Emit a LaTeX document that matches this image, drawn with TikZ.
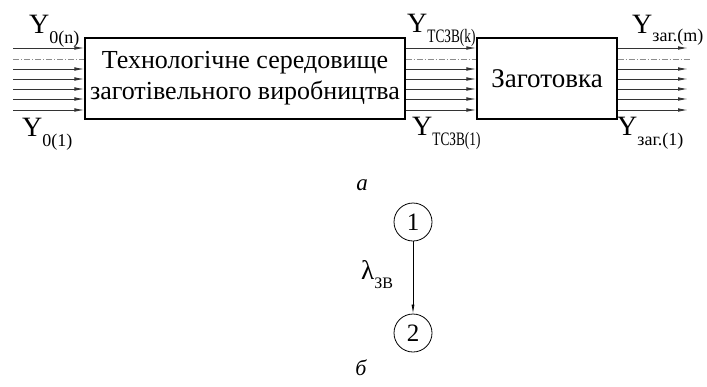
\documentclass[tikz,border=0pt]{standalone}
\usepackage{fontspec}
\setmainfont{Liberation Serif}
\usetikzlibrary{arrows.meta,calc}
\newcommand\lsub[1]{{\fontsize{18}{18}\selectfont\raisebox{-10pt}{#1}}}
\newcommand\nsub[1]{{\fontsize{19}{19}\selectfont\raisebox{-10pt}{\scalebox{0.7}[1]{#1}}}}
\begin{document}
\begin{tikzpicture}[x=1pt,y=-1pt,
  blk/.style={draw, line width=1.1pt, inner sep=0pt, align=center},
  flow/.style={line width=0.9pt, draw=black!80, -{Latex[length=10pt,width=3.6pt]}},
  axisl/.style={line width=0.5pt, draw=black!45, dash pattern=on 6pt off 2pt on 1pt off 2pt},
  lbl/.style={inner sep=0pt, anchor=base west, font=\fontsize{28}{28}\selectfont},
  circ/.style={draw, circle, line width=0.8pt, minimum size=38pt, inner sep=0pt, font=\fontsize{25}{25}\selectfont}]
\useasboundingbox (0,0) rectangle (707,386);

\node[blk, minimum width=320pt, minimum height=81pt, font=\fontsize{26}{31}\selectfont] (b1) at (245,78.5)
  {Технологічне середовище\\заготівельного виробництва};
\node[blk, minimum width=140pt, minimum height=81pt, font=\fontsize{27}{27}\selectfont] (b2) at (547,78.5)
  {Заготовка};

\foreach \i/\y in {1/48,2/69,3/79,4/89,5/99,6/110}{
  \coordinate (in\i) at (13,\y);
  \coordinate (out\i) at (688,\y);
  \draw[flow] (in\i) -- (b1.west |- in\i);
  \draw[flow] (b1.east |- in\i) -- (b2.west |- in\i);
  \draw[flow] (b2.east |- out\i) -- (out\i);
}
\coordinate (ax0) at (13,59);
\coordinate (ax1) at (690,59);
\draw[axisl] (ax0) -- (b1.west |- ax0);
\draw[axisl] (b1.east |- ax0) -- (b2.west |- ax0);
\draw[axisl] (b2.east |- ax1) -- (ax1);

\node[lbl] (y0n) at (29,33) {Y\lsub{0(n)}};
\node[lbl] (y01) at (22,136) {Y\lsub{0(1)}};
\node[lbl] (ytk) at (407,32) {Y\nsub{ТСЗВ(k)}};
\node[lbl] (yt1) at (412,135) {Y\nsub{ТСЗВ(1)}};
\node[lbl] (yzm) at (632,33) {Y{\fontsize{18}{18}\selectfont\raisebox{-8pt}{заг.(m)}}};
\node[lbl] (yz1) at (617,135) {Y\lsub{заг.(1)}};

\node[inner sep=0pt, anchor=base, font=\fontsize{23}{23}\selectfont\itshape] (capa) at (362,190) {а};

\node[circ] (c1) at (413,222) {1};
\node[circ] (c2) at (413,333) {2};
\draw[line width=0.7pt, -{Latex[length=9pt,width=3pt]}] (c1) -- (c2);
\node[inner sep=0pt, anchor=base west, font=\fontsize{27}{27}\selectfont] (lam) at (361,279)
  {λ{\fontsize{16}{16}\selectfont\raisebox{-9pt}{ЗВ}}};

\node[inner sep=0pt, anchor=base, font=\fontsize{22}{22}\selectfont\itshape] (capb) at (361,375) {б};
\end{tikzpicture}
\end{document}
